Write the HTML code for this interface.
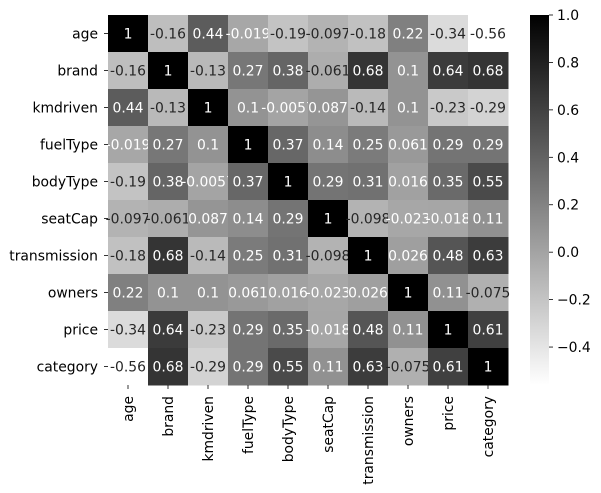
<!DOCTYPE html>
<html><head><meta charset="utf-8"><style>
body{margin:0;background:#fff}
svg{display:block;font-family:"DejaVu Sans","Liberation Sans",sans-serif}
</style></head><body>
<svg id="chart" width="601" height="493">
<defs><linearGradient id="cb" x1="0" y1="1" x2="0" y2="0"><stop offset="0" stop-color="#fff"/><stop offset="1" stop-color="#000"/></linearGradient></defs>
<g id="cells"></g>
<g id="labels"></g>
<rect x="530" y="15" width="19" height="370" fill="url(#cb)"/>
<g id="cbticks"></g>
</svg>
<script>
const variables=["age","brand","kmdriven","fuelType","bodyType","seatCap","transmission","owners","price","category"];
const row0=[1,-0.16,0.44,-0.019,-0.19,-0.097,-0.18,0.22,-0.34,-0.56];
const row1=[-0.16,1,-0.13,0.27,0.38,-0.061,0.68,0.1,0.64,0.68];
const row2=[0.44,-0.13,1,0.1,-0.0057,0.087,-0.14,0.1,-0.23,-0.29];
const row3=[-0.019,0.27,0.1,1,0.37,0.14,0.25,0.061,0.29,0.29];
const row4=[-0.19,0.38,-0.0057,0.37,1,0.29,0.31,0.016,0.35,0.55];
const row5=[-0.097,-0.061,0.087,0.14,0.29,1,-0.098,-0.023,-0.018,0.11];
const row6=[-0.18,0.68,-0.14,0.25,0.31,-0.098,1,0.026,0.48,0.63];
const row7=[0.22,0.1,0.1,0.061,0.016,-0.023,0.026,1,0.11,-0.075];
const row8=[-0.34,0.64,-0.23,0.29,0.35,-0.018,0.48,0.11,1,0.61];
const row9=[-0.56,0.68,-0.29,0.29,0.55,0.11,0.63,-0.075,0.61,1];
const matrix=[row0,row1,row2,row3,row4,row5,row6,row7,row8,row9];
const cbTickValues=[-0.4,-0.2,0,0.2,0.4,0.6,0.8,1.0];
const cbTickLabels=["−0.4","−0.2","0.0","0.2","0.4","0.6","0.8","1.0"];

const NS="http://www.w3.org/2000/svg";
const L=108,T=15,CW=40,CH=37,vmin=-0.56,vmax=1,FS=13.9;
const xPos=i=>L+i*CW, yPos=i=>T+i*CH;
const cbY=v=>385-(v-vmin)/(vmax-vmin)*370;
function mk(tag,attrs,parent,text){const e=document.createElementNS(NS,tag);for(const k in attrs)e.setAttribute(k,attrs[k]);if(text!==undefined)e.textContent=text;parent.appendChild(e);return e;}
function fmt(v){return Number(v.toPrecision(2)).toString();}
const cells=document.getElementById("cells"),labels=document.getElementById("labels"),cbt=document.getElementById("cbticks");
matrix.forEach((row,r)=>row.forEach((v,c)=>{
  const t=Math.max(0,Math.min(1,(v-vmin)/(vmax-vmin)));const g=Math.round(255*(1-t));
  const rc=mk("rect",{x:xPos(c),y:yPos(r),width:CW+0.5,height:CH+0.5,fill:`rgb(${g},${g},${g})`},cells);
  
  
  const tx=mk("text",{x:xPos(c)+CW/2,y:yPos(r)+CH/2+5,"text-anchor":"middle","font-size":FS,fill:g<172?"#fff":"#262626"},cells,fmt(v));
  
  
}));
variables.forEach((n,i)=>{
  const yl=mk("text",{x:L-10,y:yPos(i)+CH/2+5,"text-anchor":"end","font-size":FS,fill:"#000"},labels,n);
  
  
  mk("line",{x1:L-4,x2:L,y1:yPos(i)+CH/2,y2:yPos(i)+CH/2,stroke:"#000","stroke-width":0.8},labels);
  mk("line",{x1:xPos(i)+CW/2,x2:xPos(i)+CW/2,y1:385,y2:389,stroke:"#000","stroke-width":0.8},labels);
  const cx=xPos(i)+CW/2+5;
  const xl=mk("text",{x:cx,y:396,"text-anchor":"end","font-size":FS,fill:"#000",transform:`rotate(-90 ${cx} 396)`},labels,n);
  
  
});
cbTickValues.forEach((v,i)=>{
  const y=cbY(v);
  mk("line",{x1:549,x2:553,y1:y,y2:y,stroke:"#000","stroke-width":0.8},cbt);
  const tl=mk("text",{x:557,y:y+5,"font-size":FS,fill:"#000"},cbt,cbTickLabels[i]);
  
  
});
</script>
</body></html>
